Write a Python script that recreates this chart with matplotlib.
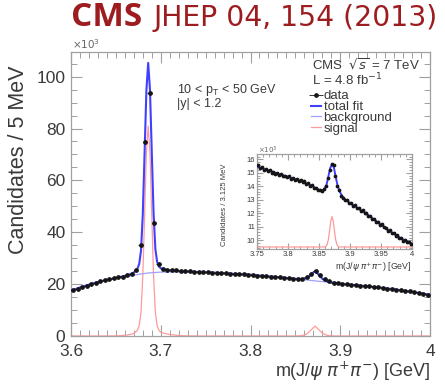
import numpy as np
import matplotlib
matplotlib.use("Agg")
import matplotlib.pyplot as plt
from matplotlib.ticker import MultipleLocator

plt.rcParams["font.family"] = ["Liberation Sans", "DejaVu Sans"]

# ---------------- main spectrum: 5 MeV bins ----------------
bin_centers = [3.6025 + 0.005 * i for i in range(80)]
counts = [
    17.6, 18.1, 18.8, 19.4, 20.0, 20.5, 21.1, 21.4, 21.9, 22.2,
    22.6, 22.9, 23.4, 24.0, 25.6, 35.0, 74.7, 93.5, 43.4, 27.8,
    25.8, 25.5, 25.4, 25.3, 25.1, 25.0, 24.9, 24.8, 24.8, 24.6,
    24.6, 24.4, 24.4, 24.2, 24.2, 24.0, 24.0, 23.8, 23.8, 23.6,
    23.5, 23.3, 23.2, 23.1, 22.9, 22.7, 22.6, 22.4, 22.3, 22.1,
    22.0, 22.1, 22.6, 24.0, 25.0, 23.5, 22.0, 21.1, 20.6, 20.4,
    20.1, 19.9, 19.8, 19.6, 19.4, 19.2, 19.1, 18.9, 18.7, 18.6,
    18.3, 18.1, 17.9, 17.7, 17.4, 17.2, 16.9, 16.6, 16.3, 16.0,
]

# fit components
fit_mass = [
    3.600, 3.610, 3.620, 3.630, 3.640, 3.650, 3.656, 3.662, 3.666, 3.670,
    3.672, 3.674, 3.676, 3.678, 3.680, 3.682, 3.684, 3.686, 3.688, 3.690,
    3.692, 3.694, 3.696, 3.698, 3.700, 3.704, 3.710, 3.716, 3.722, 3.730,
    3.740, 3.760, 3.780, 3.800, 3.820, 3.840, 3.850, 3.856, 3.860, 3.864,
    3.868, 3.872, 3.876, 3.880, 3.884, 3.888, 3.894, 3.900, 3.920, 3.940,
    3.960, 3.980, 4.000,
]
fit_bkg = [
    17.5, 18.7, 19.8, 20.8, 21.6, 22.3, 22.7, 23.0, 23.2, 23.5,
    23.6, 23.7, 23.8, 23.9, 24.0, 24.1, 24.2, 24.3, 24.35, 24.4,
    24.45, 24.5, 24.55, 24.6, 24.6, 24.65, 24.7, 24.75, 24.8, 24.8,
    24.7, 24.4, 24.0, 23.6, 23.0, 22.4, 22.05, 21.85, 21.7, 21.55,
    21.4, 21.25, 21.1, 21.0, 20.85, 20.7, 20.45, 20.2, 19.5, 18.8,
    18.0, 17.0, 15.9,
]
fit_sig = [
    0.0, 0.0, 0.0, 0.0, 0.0, 0.05, 0.15, 0.35, 0.6, 1.0,
    1.5, 2.2, 4.0, 9.0, 23.0, 46.5, 70.5, 81.0, 70.5, 46.5,
    23.0, 9.0, 4.0, 2.2, 1.5, 1.0, 0.6, 0.35, 0.15, 0.05,
    0.0, 0.0, 0.0, 0.0, 0.0, 0.0, 0.0, 0.1, 0.4, 1.1,
    2.5, 3.8, 2.5, 1.1, 0.4, 0.1, 0.0, 0.0, 0.0, 0.0,
    0.0, 0.0, 0.0,
]

# ---------------- inset: 3.125 MeV bins ----------------
inset_centers = [3.7515625 + 0.003125 * i for i in range(80)]
inset_counts = [
    15.55, 15.35, 15.40, 15.22, 15.30, 15.12, 15.20, 15.02, 15.10, 14.95,
    15.02, 14.85, 14.93, 14.75, 14.80, 14.68, 14.75, 14.58, 14.62, 14.45,
    14.58, 14.40, 14.46, 14.30, 14.38, 14.18, 14.24, 14.02, 14.08, 13.90,
    13.88, 13.70, 13.76, 13.62, 13.80, 14.00, 14.62, 15.20, 15.68, 15.55,
    14.80, 14.05, 13.75, 13.30, 13.15, 12.95, 12.98, 12.75, 12.80, 12.55,
    12.60, 12.36, 12.42, 12.18, 12.25, 12.00, 12.02, 11.80, 11.82, 11.58,
    11.60, 11.38, 11.36, 11.15, 11.18, 10.95, 10.92, 10.70, 10.74, 10.55,
    10.52, 10.35, 10.38, 10.18, 10.15, 9.98, 10.02, 9.85, 9.88, 9.72,
]
inset_fit_mass = [
    3.750, 3.760, 3.770, 3.780, 3.790, 3.800, 3.810, 3.820, 3.830, 3.840,
    3.848, 3.854, 3.858, 3.862, 3.865, 3.868, 3.871, 3.874, 3.877, 3.880,
    3.884, 3.890, 3.900, 3.910, 3.920, 3.930, 3.940, 3.950, 3.960, 3.970,
    3.980, 3.990, 4.000,
]
inset_fit_total = [
    15.45, 15.30, 15.15, 15.00, 14.85, 14.70, 14.55, 14.40, 14.22, 14.00,
    13.78, 13.68, 13.75, 14.10, 14.70, 15.35, 15.65, 15.40, 14.70, 14.05,
    13.55, 13.10, 12.75, 12.45, 12.15, 11.85, 11.50, 11.15, 10.80, 10.50,
    10.20, 9.95, 9.75,
]
inset_sig_mass = [3.750, 3.858, 3.861, 3.863, 3.865, 3.867, 3.869, 3.871,
                  3.873, 3.875, 3.877, 3.879, 3.881, 3.884, 4.000]
inset_sig = [9.5, 9.5, 9.54, 9.66, 10.02, 10.68, 11.42, 11.76,
             11.42, 10.68, 10.02, 9.66, 9.54, 9.5, 9.5]

W, H = 445, 387
C_TOT = "#4040ff"
C_BKG = "#a0a0ff"
C_SIG = "#ff9a9a"
C_FRAME = "#a0a0a0"
C_TEXT = "#3a3a3a"


def px(x0, y0, x1, y1):
    return [x0 / W, 1 - y1 / H, (x1 - x0) / W, (y1 - y0) / H]


def root_style(ax, size, major, minor):
    for s in ax.spines.values():
        s.set_color(C_FRAME)
        s.set_linewidth(0.9)
    ax.tick_params(which="both", direction="in", top=True, right=True,
                   color=C_FRAME, labelcolor=C_TEXT, labelsize=size)
    ax.tick_params(which="major", length=major, width=0.8)
    ax.tick_params(which="minor", length=minor, width=0.7)


fig = plt.figure(figsize=(W / 100, H / 100), dpi=100)

ax = fig.add_axes(px(71, 52, 430, 336))
tot = [b + s for b, s in zip(fit_bkg, fit_sig)]
ax.plot(fit_mass, fit_sig, color=C_SIG, lw=0.9, label="signal", zorder=2)
ax.plot(fit_mass, fit_bkg, color=C_BKG, lw=0.9, label="background", zorder=2)
ax.plot(fit_mass, tot, color=C_TOT, lw=1.5, label="total fit", zorder=3)
ax.errorbar(bin_centers, counts, xerr=0.0025, fmt="o", ms=2.4, color="#151515",
            elinewidth=0.6, capsize=0, label="data", zorder=4)
ax.set_xlim(3.6, 4.0)
ax.set_ylim(0, 109.5)
ax.xaxis.set_major_locator(MultipleLocator(0.1))
ax.xaxis.set_minor_locator(MultipleLocator(0.01))
ax.yaxis.set_major_locator(MultipleLocator(20))
ax.yaxis.set_minor_locator(MultipleLocator(5))
ax.set_xticks([3.6, 3.7, 3.8, 3.9, 4.0], ["3.6", "3.7", "3.8", "3.9", "4"])
root_style(ax, 12.5, 8, 4)
ax.tick_params(axis="x", pad=6)
ax.tick_params(axis="y", pad=4)

fig.text(72 / W, 1 - 44 / H, r"$\times10^{3}$", fontsize=7.5, color="#666666",
         va="center")
fig.text(19 / W, 1 - 160 / H, "Candidates / 5 MeV", rotation=90, fontsize=15.5,
         color=C_TEXT, ha="center", va="center")
fig.text(430 / W, 1 - 371 / H, r"m(J/$\psi$ $\pi^{+}\pi^{-}$) [GeV]", fontsize=13,
         color=C_TEXT, ha="right", va="center")

fig.text(177 / W, 1 - 90 / H, r"10 < p$_{\mathregular{T}}$ < 50 GeV", fontsize=9,
         color=C_TEXT, va="center")
fig.text(177 / W, 1 - 104 / H, "|y| < 1.2", fontsize=9, color=C_TEXT, va="center")
fig.text(312 / W, 1 - 65 / H, r"CMS  $\sqrt{s}$ = 7 TeV", fontsize=9.5,
         color=C_TEXT, va="center")
fig.text(312 / W, 1 - 80 / H, r"L = 4.8 fb$^{-1}$", fontsize=9.5,
         color=C_TEXT, va="center")

handles, labels = ax.get_legend_handles_labels()
order = [3, 2, 1, 0]
leg = ax.legend([handles[i] for i in order], [labels[i] for i in order],
                loc="upper left", bbox_to_anchor=((311 - 71) / 359, (336 - 90) / 284),
                frameon=False, fontsize=9.5, handlelength=0.75, handletextpad=0.2,
                labelspacing=-0.1, borderpad=0, borderaxespad=0)
for t in leg.get_texts():
    t.set_color(C_TEXT)

# inset: X(3872) region
ins = fig.add_axes(px(257, 154, 412, 249))
ins.plot(inset_sig_mass, inset_sig, color=C_SIG, lw=0.9, zorder=2)
ins.plot(inset_fit_mass, inset_fit_total, color=C_TOT, lw=1.4, zorder=3)
ins.errorbar(inset_centers, inset_counts, yerr=0.06, fmt="o", ms=1.7,
             color="#151515", elinewidth=0.5, capsize=0, zorder=4)
ins.set_xlim(3.75, 4.0)
ins.set_ylim(9.35, 16.4)
ins.xaxis.set_major_locator(MultipleLocator(0.05))
ins.xaxis.set_minor_locator(MultipleLocator(0.01))
ins.yaxis.set_major_locator(MultipleLocator(1))
ins.yaxis.set_minor_locator(MultipleLocator(0.2))
ins.set_xticks([3.75, 3.8, 3.85, 3.9, 3.95, 4.0],
               ["3.75", "3.8", "3.85", "3.9", "3.95", "4"])
root_style(ins, 5.5, 4, 2)
ins.tick_params(pad=1.5)
fig.text(258 / W, 1 - 150 / H, r"$\times10^{3}$", fontsize=5, color="#666666",
         va="center")
fig.text(224 / W, 1 - 205 / H, "Candidates / 3.125 MeV", rotation=90, fontsize=5.5,
         color=C_TEXT, ha="center", va="center")
fig.text(412 / W, 1 - 267 / H, r"m(J/$\psi$ $\pi^{+}\pi^{-}$) [GeV]", fontsize=6.3,
         color=C_TEXT, ha="right", va="center")

# header
red = "#9c1c1f"
fig.text(71 / W, 1 - 17 / H, "CMS", fontsize=24, fontweight="bold", color=red,
         family="Open Sans", va="center")
fig.text(153 / W, 1 - 18 / H, "JHEP 04, 154 (2013)", fontsize=20.3, color=red,
         family="DejaVu Sans", va="center")

fig.savefig("out.png", dpi=100)
